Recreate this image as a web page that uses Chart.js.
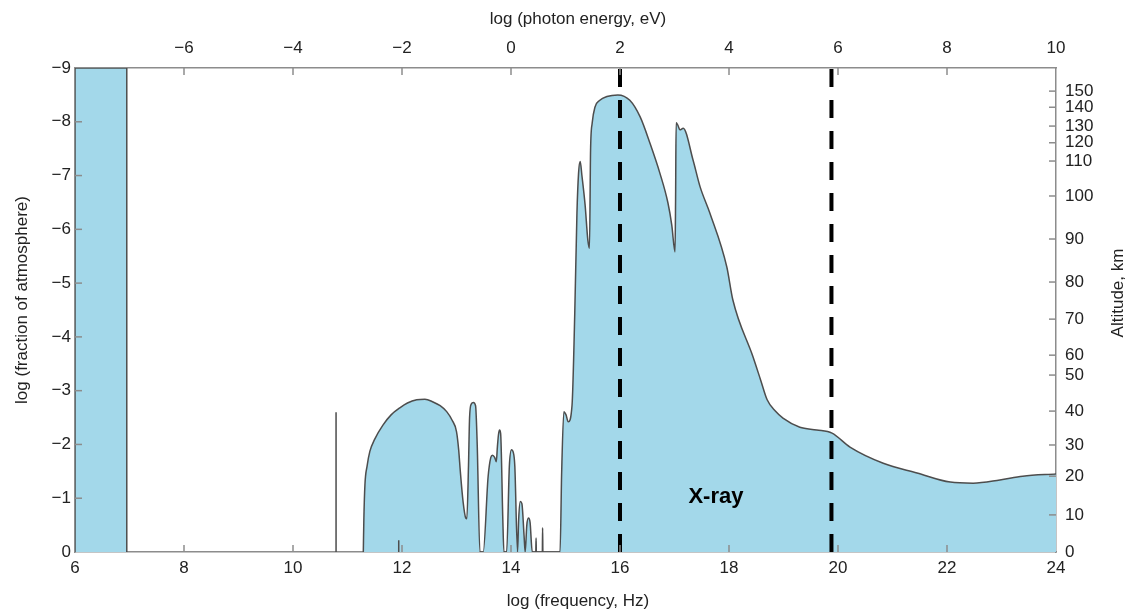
<!DOCTYPE html>
<html><head><meta charset="utf-8">
<script src="https://cdn.jsdelivr.net/npm/chart.js@4"></script>
<style>html,body{margin:0;padding:0;background:#fff}#wrap{width:1131px;height:614px}</style>
</head><body><div id="wrap"><canvas id="c" width="1131" height="614"></canvas></div>
<script>
// ---- data (x = log frequency in Hz, depth = -log fraction of atmosphere) ----
const freqTicks = [6, 8, 10, 12, 14, 16, 18, 20, 22, 24];
const energyOffset = 14;           // log(photon energy, eV) = log(freq) - 14 on this figure
const energyTicks = [-6, -4, -2, 0, 2, 4, 6, 8, 10];
const fractionTicks = [0, -1, -2, -3, -4, -5, -6, -7, -8, -9];
const altitudeKm    = [0, 10, 20, 30, 40, 50, 60, 70, 80, 90, 100, 110, 120, 130, 140, 150];
const altitudeDepth = [0, 0.69, 1.41, 1.99, 2.62, 3.29, 3.66, 4.33, 5.02, 5.82, 6.62, 7.27, 7.61, 7.92, 8.27, 8.57];

const radioFreq  = [6, 6, 6.95, 6.95];
const radioDepth = [0, 9, 9, 0];

const spikeFreq  = [10.79, 11.94];
const spikeDepth = [2.6, 0.22];

const curveFreq = [11.29,11.30,11.32,11.36,11.41,11.50,11.65,11.80,11.96,12.10,12.27,12.42,12.57,12.70,12.82,12.92,13.00,13.04,13.07,13.12,13.17,13.19,13.22,13.24,13.27,13.31,13.35,13.38,13.43,
  13.49,13.58,13.63,13.66,13.70,13.73,13.75,13.77,13.79,13.81,13.85,13.87,
  13.92,13.97,14.01,14.04,14.07,14.12,14.14,14.17,14.20,14.24,14.26,14.29,14.32,14.35,14.39,
  14.455,14.46,14.465,14.575,14.58,14.585,
  14.90,14.93,14.97,15.01,15.05,15.12,15.17,15.21,15.24,15.27,15.30,15.36,15.41,15.44,15.46,15.49,15.54,15.63,15.76,15.96,16.18,16.37,16.55,16.73,16.88,16.95,17.01,
  17.02,17.03,17.06,17.10,17.16,17.34,17.47,17.65,17.96,18.07,18.44,18.58,18.70,18.85,18.99,19.30,19.61,19.89,20.22,20.83,21.45,22.06,22.48,22.97,23.39,24.00];
const curveDepth = [0,0.6,1.25,1.6,1.87,2.1,2.36,2.55,2.68,2.77,2.83,2.84,2.79,2.72,2.61,2.45,2.24,1.9,1.5,0.94,0.63,0.62,1.6,2.5,2.75,2.78,2.72,2.0,0,
  0,1.4,1.76,1.80,1.76,1.68,1.95,2.18,2.27,2.2,0.6,0,
  0,1.6,1.90,1.86,1.6,0,0.6,0.94,0.9,0.3,0,0.5,0.63,0.55,0,
  0,0.26,0,0,0.45,0,
  0,1.5,2.61,2.55,2.42,2.73,4.44,6.30,7.05,7.26,7.01,6.45,5.80,5.65,7.47,7.98,8.27,8.40,8.47,8.50,8.40,8.09,7.60,7.05,6.49,6.08,5.58,
  6.55,7.98,7.94,7.85,7.88,7.29,6.79,6.30,5.30,4.69,3.63,3.2,2.83,2.62,2.49,2.32,2.27,2.21,1.95,1.65,1.47,1.30,1.28,1.34,1.41,1.45];

const dashedFreq = [16, 19.88];
const bandLabel = {text: 'X-ray', freq: 17.76, depth: 1.02};

// ---- build ----
const fill = '#a3d8ea';
const edge = '#4d4d4d';
const frame = '#8c8c8c';
const txt = '#222';
const FONT = '"Liberation Sans", Arial, sans-serif';
const fmt = v => (v < 0 ? '\u2212' + Math.abs(v) : String(v));
const pts = (fs, ds) => fs.map((f, i) => ({x: f, y: -ds[i]}));

const spikePts = [];
spikeFreq.forEach((f, i) => { spikePts.push({x: f, y: 0}, {x: f, y: -spikeDepth[i]}, {x: f, y: null}); });

const datasets = [
  {data: pts(radioFreq, radioDepth), fill: 'origin', backgroundColor: fill, borderColor: edge, borderWidth: 1.5, tension: 0, order: 3},
  {data: pts(curveFreq, curveDepth), fill: 'origin', backgroundColor: fill, borderColor: edge, borderWidth: 1.5, cubicInterpolationMode: 'monotone', order: 2},
  {data: spikePts, fill: false, borderColor: edge, borderWidth: 1.5, spanGaps: false, tension: 0, order: 1},
];
dashedFreq.forEach(f => datasets.push({data: [{x: f, y: 0}, {x: f, y: -9}], fill: false, borderColor: '#000', borderWidth: 4, borderDash: [18, 13], tension: 0, order: -1}));
datasets.forEach(d => { d.pointRadius = 0; d.xAxisID = 'x'; d.yAxisID = 'y'; });

const tickFont = {family: FONT, size: 17};

const innerTicks = {
  id: 'innerTicks',
  afterDatasetsDraw(chart) {
    const ctx = chart.ctx, a = chart.chartArea, L = 7;
    ctx.save();
    ctx.strokeStyle = frame; ctx.lineWidth = 1.5;
    const line = (x1, y1, x2, y2) => { ctx.beginPath(); ctx.moveTo(x1, y1); ctx.lineTo(x2, y2); ctx.stroke(); };
    chart.scales.x.ticks.forEach(t => { const p = chart.scales.x.getPixelForValue(t.value); if (p > a.left + 2 && p < a.right - 2) line(p, a.bottom, p, a.bottom - L); });
    chart.scales.x2.ticks.forEach(t => { const p = chart.scales.x2.getPixelForValue(t.value); if (p > a.left + 2 && p < a.right - 2) line(p, a.top, p, a.top + L); });
    chart.scales.y.ticks.forEach(t => { const p = chart.scales.y.getPixelForValue(t.value); if (p > a.top + 2 && p < a.bottom - 2) line(a.left, p, a.left + L, p); });
    chart.scales.y2.ticks.forEach(t => { const p = chart.scales.y2.getPixelForValue(t.value); if (p > a.top + 2 && p < a.bottom - 2) line(a.right, p, a.right - L, p); });
    // band label
    ctx.fillStyle = '#000';
    ctx.font = 'bold 22px ' + FONT;
    ctx.textAlign = 'center'; ctx.textBaseline = 'middle';
    ctx.fillText(bandLabel.text, chart.scales.x.getPixelForValue(bandLabel.freq), chart.scales.y.getPixelForValue(-bandLabel.depth));
    // axis titles
    ctx.fillStyle = txt;
    ctx.font = '17px ' + FONT;
    ctx.fillText('log (frequency, Hz)', 578, 601);
    ctx.fillText('log (photon energy, eV)', 578, 19);
    ctx.save(); ctx.translate(22, 300); ctx.rotate(-Math.PI / 2); ctx.fillText('log (fraction of atmosphere)', 0, 0); ctx.restore();
    ctx.save(); ctx.translate(1118, 293); ctx.rotate(-Math.PI / 2); ctx.fillText('Altitude, km', 0, 0); ctx.restore();
    ctx.restore();
  }
};

const noGrid = {drawOnChartArea: false, drawTicks: false};
const border = {display: true, color: frame, width: 1.5};

new Chart(document.getElementById('c'), {
  type: 'line',
  data: {datasets},
  plugins: [innerTicks],
  options: {
    responsive: false, animation: false, devicePixelRatio: 1,
    layout: {padding: 0},
    plugins: {legend: {display: false}, tooltip: {enabled: false}},
    scales: {
      x: {type: 'linear', position: 'bottom', min: 6, max: 24,
          afterBuildTicks: s => { s.ticks = freqTicks.map(v => ({value: v})); },
          ticks: {font: tickFont, color: txt, padding: 6, callback: v => fmt(v), maxRotation: 0},
          grid: noGrid, border, afterFit: s => { s.height = 62; }},
      x2: {type: 'linear', position: 'top', min: 6 - energyOffset, max: 24 - energyOffset,
          afterBuildTicks: s => { s.ticks = energyTicks.map(v => ({value: v})); },
          ticks: {font: tickFont, color: txt, padding: 9, callback: v => fmt(v), maxRotation: 0},
          grid: noGrid, border, afterFit: s => { s.height = 68; }},
      y: {type: 'linear', position: 'left', min: -9, max: 0, reverse: true,
          afterBuildTicks: s => { s.ticks = fractionTicks.map(v => ({value: v})); },
          ticks: {font: tickFont, color: txt, padding: 4, callback: v => fmt(v)},
          grid: noGrid, border, afterFit: s => { s.width = 75; }},
      y2: {type: 'linear', position: 'right', min: -9, max: 0, reverse: true,
          afterBuildTicks: s => { s.ticks = altitudeDepth.map(v => ({value: -v})); },
          ticks: {font: tickFont, color: txt, padding: 9, autoSkip: false,
                  callback: (v, i) => String(altitudeKm[i])},
          grid: noGrid, border, afterFit: s => { s.width = 75; }}
    }
  }
});
</script></body></html>
